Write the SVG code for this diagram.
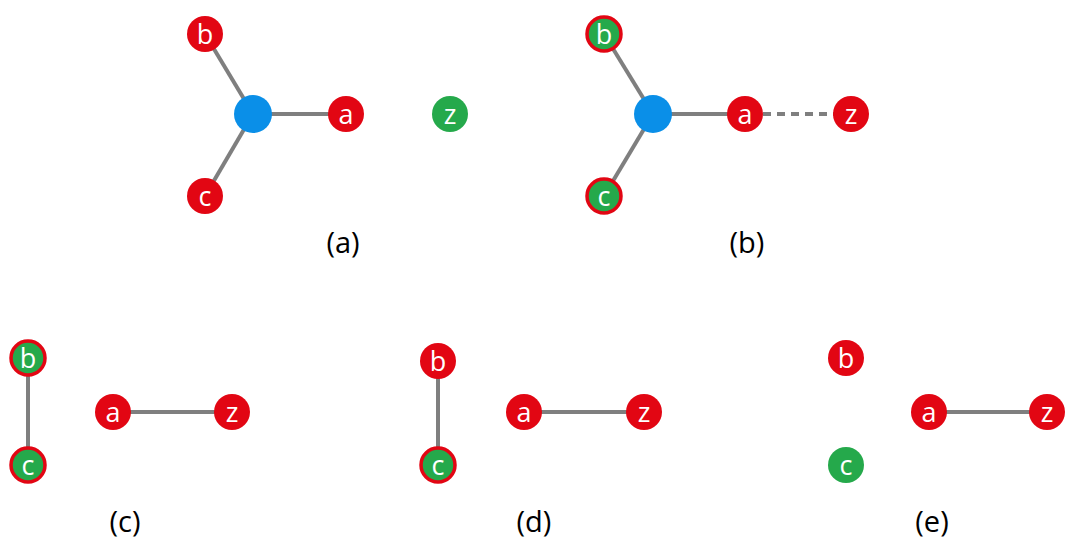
<svg xmlns="http://www.w3.org/2000/svg" width="1077" height="549" viewBox="0 0 1077 549">
<style>
.e{stroke:#7f7f7f;stroke-width:4;fill:none}
.d{stroke-dasharray:8,6}
.r{fill:#e20613}
.g{fill:#25a94b}
.gr{fill:#25a94b;stroke:#e20613;stroke-width:3.5}
.b{fill:#0a8fe8}
.t{fill:#fff;font-family:"Open Sans",sans-serif;font-size:27px;text-anchor:middle}
.l{fill:#000;font-family:"Open Sans",sans-serif;font-size:29px;text-anchor:middle}
</style>
<rect width="1077" height="549" fill="#fff"/>
<g id="connectors">
<line class="e" x1="205" y1="34" x2="253" y2="114"/>
<line class="e" x1="205" y1="196" x2="253" y2="114"/>
<line class="e" x1="253" y1="114" x2="346" y2="114"/>
<line class="e" x1="604" y1="34" x2="653" y2="114"/>
<line class="e" x1="604" y1="196" x2="653" y2="114"/>
<line class="e" x1="653" y1="114" x2="745" y2="114"/>
<line class="e d" x1="763" y1="114" x2="834" y2="114"/>
<line class="e" x1="28" y1="358" x2="28" y2="465"/>
<line class="e" x1="113" y1="412" x2="232" y2="412"/>
<line class="e" x1="438" y1="361" x2="438" y2="465"/>
<line class="e" x1="524" y1="412" x2="644" y2="412"/>
<line class="e" x1="929" y1="412" x2="1047" y2="412"/>
</g>
<g id="a-b"><circle class="r" cx="205" cy="34" r="18"/><text class="t" x="205" y="44">b</text></g>
<g id="a-c"><circle class="r" cx="205" cy="196" r="18"/><text class="t" x="205" y="206">c</text></g>
<g id="a-hub"><circle class="b" cx="253" cy="114" r="19"/></g>
<g id="a-a"><circle class="r" cx="346" cy="114" r="18"/><text class="t" x="346" y="124">a</text></g>
<g id="a-z"><circle class="g" cx="450" cy="114" r="18"/><text class="t" x="450" y="124">z</text></g>
<text class="l" x="343" y="253">(a)</text>
<g id="b-b"><circle class="gr" cx="604" cy="34" r="17"/><text class="t" x="604" y="44">b</text></g>
<g id="b-c"><circle class="gr" cx="604" cy="196" r="17"/><text class="t" x="604" y="206">c</text></g>
<g id="b-hub"><circle class="b" cx="653" cy="114" r="19"/></g>
<g id="b-a"><circle class="r" cx="745" cy="114" r="18"/><text class="t" x="745" y="124">a</text></g>
<g id="b-z"><circle class="r" cx="851" cy="114" r="18"/><text class="t" x="851" y="124">z</text></g>
<text class="l" x="747" y="253">(b)</text>
<g id="c-b"><circle class="gr" cx="28" cy="358" r="17"/><text class="t" x="28" y="368">b</text></g>
<g id="c-c"><circle class="gr" cx="28" cy="465" r="17"/><text class="t" x="28" y="475">c</text></g>
<g id="c-a"><circle class="r" cx="113" cy="412" r="18"/><text class="t" x="113" y="422">a</text></g>
<g id="c-z"><circle class="r" cx="232" cy="412" r="18"/><text class="t" x="232" y="422">z</text></g>
<text class="l" x="125" y="532">(c)</text>
<g id="d-b"><circle class="r" cx="438" cy="361" r="18"/><text class="t" x="438" y="371">b</text></g>
<g id="d-c"><circle class="gr" cx="438" cy="465" r="17"/><text class="t" x="438" y="475">c</text></g>
<g id="d-a"><circle class="r" cx="524" cy="412" r="18"/><text class="t" x="524" y="422">a</text></g>
<g id="d-z"><circle class="r" cx="644" cy="412" r="18"/><text class="t" x="644" y="422">z</text></g>
<text class="l" x="534" y="532">(d)</text>
<g id="e-b"><circle class="r" cx="846" cy="358" r="18"/><text class="t" x="846" y="368">b</text></g>
<g id="e-c"><circle class="g" cx="846" cy="465" r="18"/><text class="t" x="846" y="475">c</text></g>
<g id="e-a"><circle class="r" cx="929" cy="412" r="18"/><text class="t" x="929" y="422">a</text></g>
<g id="e-z"><circle class="r" cx="1047" cy="412" r="18"/><text class="t" x="1047" y="422">z</text></g>
<text class="l" x="932" y="532">(e)</text>
</svg>
